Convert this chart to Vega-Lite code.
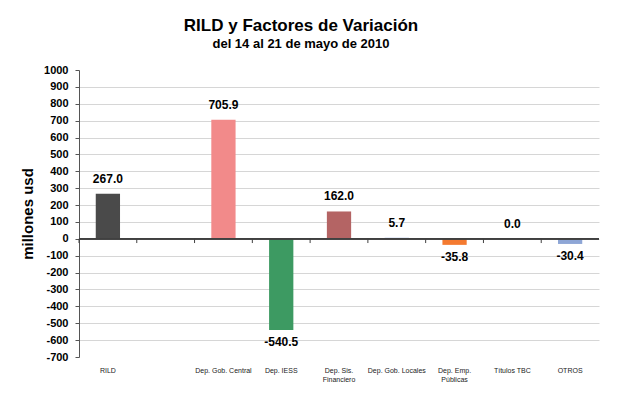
{
  "$schema": "https://vega.github.io/schema/vega-lite/v6.json",
  "width": 520,
  "height": 287,
  "autosize": "none",
  "padding": {"left": 79, "top": 70, "right": 20, "bottom": 44},
  "background": "white",
  "config": {
    "font": "Liberation Sans",
    "view": {"stroke": null},
    "axis": {"labelOverlap": false, "labelFlush": false},
    "locale": {"number": {"decimal": ".", "thousands": ",", "grouping": [3], "currency": ["$", ""], "minus": "-"}}
  },
  "title": {
    "text": "RILD y Factores de Variación",
    "subtitle": "del 14 al 21 de mayo de 2010",
    "font": "Liberation Sans",
    "fontSize": 17,
    "fontWeight": "bold",
    "color": "#000",
    "subtitleFont": "Liberation Sans",
    "subtitleFontSize": 13,
    "subtitleFontWeight": "bold",
    "subtitleColor": "#000",
    "anchor": "middle",
    "offset": 12,
    "subtitlePadding": 3,
    "dx": -38
  },
  "datasets": {
    "bars": [
      {"cat": "RILD", "val": 267.0},
      {"cat": "Dep. Gob. Central", "val": 705.9},
      {"cat": "Dep. IESS", "val": -540.5},
      {"cat": "Dep. Sis. Financiero", "val": 162.0},
      {"cat": "Dep. Gob. Locales", "val": 5.7},
      {"cat": "Dep. Emp. Públicas", "val": -35.8},
      {"cat": "Títulos TBC", "val": 0.0},
      {"cat": "OTROS", "val": -30.4}
    ],
    "slots": [
      {"cat": "RILD"}, {"cat": " "}, {"cat": "Dep. Gob. Central"}, {"cat": "Dep. IESS"},
      {"cat": "Dep. Sis. Financiero"}, {"cat": "Dep. Gob. Locales"}, {"cat": "Dep. Emp. Públicas"},
      {"cat": "Títulos TBC"}, {"cat": "OTROS"}
    ]
  },
  "resolve": {"scale": {"x": "independent"}},
  "layer": [
    {
      "data": {"name": "bars"},
      "encoding": {
        "x": {
          "field": "cat",
          "type": "nominal",
          "sort": null,
          "scale": {
            "domain": ["RILD", " ", "Dep. Gob. Central", "Dep. IESS", "Dep. Sis. Financiero", "Dep. Gob. Locales", "Dep. Emp. Públicas", "Títulos TBC", "OTROS"],
            "paddingInner": 0.58,
            "paddingOuter": 0.29
          },
          "axis": {
            "title": null,
            "orient": "bottom",
            "domain": false,
            "ticks": false,
            "grid": false,
            "labelAngle": 0,
            "labelFontSize": 7,
            "labelColor": "#222",
            "labelPadding": 9,
            "labelLineHeight": 9,
            "labelOverlap": false,
            "labelExpr": "datum.label == 'Dep. Sis. Financiero' ? ['Dep. Sis.', 'Financiero'] : datum.label == 'Dep. Emp. Públicas' ? ['Dep. Emp.', 'Públicas'] : datum.label"
          }
        },
        "y": {
          "field": "val",
          "type": "quantitative",
          "scale": {"domain": [-700, 1000], "nice": false},
          "axis": {
            "values": [-700, -600, -500, -400, -300, -200, -100, 0, 100, 200, 300, 400, 500, 600, 700, 800, 900, 1000],
            "tickCount": 30,
            "format": "d",
            "title": "millones usd",
            "titleFontSize": 15,
            "titleFontWeight": "bold",
            "titleColor": "#000",
            "titlePadding": 8,
            "labelFontSize": 11,
            "labelFontWeight": "bold",
            "labelColor": "#000",
            "labelPadding": 7,
            "labelOverlap": false,
            "labelFlush": false,
            "tickSize": 4,
            "tickColor": "#555",
            "domainColor": "#555",
            "grid": true,
            "gridColor": {"condition": {"test": "datum.value == 1000 || datum.value == -700", "value": "transparent"}, "value": "#d6d6d6"}
          }
        }
      },
      "layer": [
        {
          "mark": {"type": "bar"},
          "encoding": {
            "color": {
              "field": "cat",
              "type": "nominal",
              "legend": null,
              "scale": {
                "domain": ["RILD", "Dep. Gob. Central", "Dep. IESS", "Dep. Sis. Financiero", "Dep. Gob. Locales", "Dep. Emp. Públicas", "Títulos TBC", "OTROS"],
                "range": ["#4a4a4a", "#f28a8a", "#3d9a62", "#b46464", "#5572c4", "#f47a30", "#999999", "#8ea6d6"]
              }
            }
          }
        },
        {
          "transform": [{"filter": "datum.val >= 0"}],
          "mark": {"type": "text", "baseline": "bottom", "dy": -8, "fontSize": 12, "fontWeight": "bold", "color": "#000"},
          "encoding": {"text": {"field": "val", "type": "quantitative", "format": ".1f"}}
        },
        {
          "transform": [{"filter": "datum.val < 0"}],
          "mark": {"type": "text", "baseline": "top", "dy": 7, "fontSize": 12, "fontWeight": "bold", "color": "#000"},
          "encoding": {"text": {"field": "val", "type": "quantitative", "format": ".1f"}}
        }
      ]
    },
    {
      "data": {"name": "bars"},
      "mark": {"type": "rule", "color": "#404040", "strokeWidth": 1},
      "encoding": {"y": {"datum": 0}}
    },
    {
      "data": {"name": "slots"},
      "mark": {"type": "rule", "color": "#404040", "strokeWidth": 1},
      "encoding": {
        "x": {
          "field": "cat",
          "type": "nominal",
          "sort": null,
          "bandPosition": 0,
          "scale": {
            "type": "band",
            "domain": ["RILD", " ", "Dep. Gob. Central", "Dep. IESS", "Dep. Sis. Financiero", "Dep. Gob. Locales", "Dep. Emp. Públicas", "Títulos TBC", "OTROS"],
            "paddingInner": 0,
            "paddingOuter": 0
          },
          "axis": null
        },
        "y": {"datum": 0},
        "y2": {"datum": -25}
      }
    }
  ]
}
